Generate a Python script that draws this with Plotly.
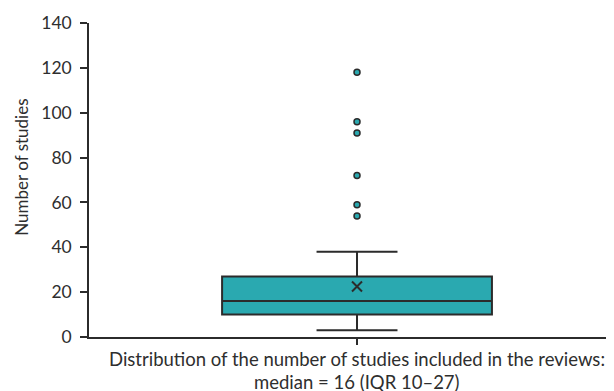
import plotly.graph_objects as go

# Summary statistics (number of studies per review)
q1 = [10]
median = [16]
q3 = [27]
lower_fence = [3]
upper_fence = [38]
mean = [22.5]
outliers = [54, 59, 72, 91, 96, 118]
y_ticks = [0, 20, 40, 60, 80, 100, 120, 140]
x_title_lines = ["Distribution of the number of studies included in the reviews:",
                 "median = 16 (IQR 10–27)"]

teal = "#2aa9b0"
dark = "#2b2b2b"
txt = "#2e2e2e"
font_family = "Lato, 'Open Sans', sans-serif"

fig = go.Figure()
fig.add_trace(go.Box(
    x=[0], q1=q1, median=median, q3=q3,
    lowerfence=lower_fence, upperfence=upper_fence,
    width=0.514, whiskerwidth=0.3,
    fillcolor=teal, line=dict(color=dark, width=2),
    boxpoints=False, showlegend=False, hoverinfo="skip",
))
fig.add_trace(go.Scatter(
    x=[0] * len(outliers), y=outliers, mode="markers",
    marker=dict(symbol="circle", size=6, color=teal, line=dict(color=dark, width=1.5)),
    showlegend=False,
))
fig.add_trace(go.Scatter(
    x=[0], y=mean, mode="markers",
    marker=dict(symbol="x-thin", size=10, color=dark, line=dict(color=dark, width=2)),
    showlegend=False,
))

annotations = [
    dict(text="Number of studies", textangle=-90, xref="paper", yref="paper",
         x=-0.1276, y=0.539, xanchor="center", yanchor="middle", showarrow=False,
         font=dict(size=17, color=txt)),
]
for i, line in enumerate(x_title_lines):
    annotations.append(dict(
        text=line, xref="x", yref="paper", x=0, y=0, yshift=-9 - 23 * i,
        xanchor="center", yanchor="top", showarrow=False,
        font=dict(size=18.5, color=txt)))

fig.update_layout(
    width=606, height=383,
    margin=dict(l=81, r=0, t=15, b=54),
    paper_bgcolor="white", plot_bgcolor="white",
    font=dict(family=font_family, size=17, color=txt),
    xaxis=dict(
        range=[-0.5105, 0.4895], showgrid=False, zeroline=False,
        showline=True, linecolor=dark, linewidth=1.5,
        tickmode="array", tickvals=[0], ticktext=[""],
        ticks="outside", ticklen=6, tickcolor=dark, tickwidth=1.5,
        fixedrange=True,
    ),
    yaxis=dict(
        range=[0, 140], tickmode="array", tickvals=y_ticks,
        showgrid=False, zeroline=False,
        showline=True, linecolor=dark, linewidth=1.5,
        ticks="outside", ticklen=7, tickcolor=dark, tickwidth=1.5,
        ticklabelstandoff=5,
        tickfont=dict(size=17.5, color=txt),
    ),
    annotations=annotations,
)

fig.write_html("out.html")
